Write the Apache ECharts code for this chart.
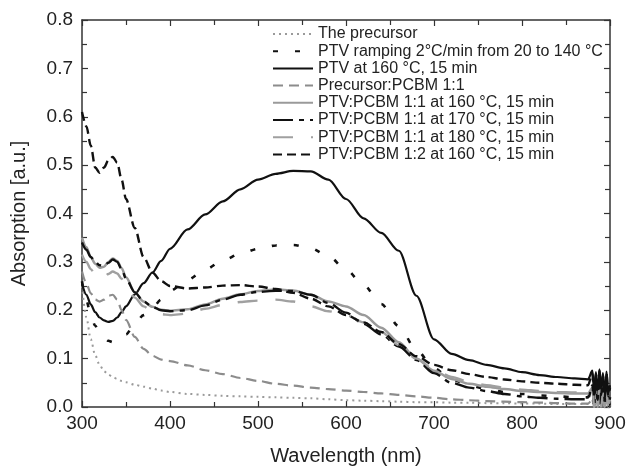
<!DOCTYPE html>
<html>
<head>
<meta charset="utf-8">
<script src="https://cdn.jsdelivr.net/npm/echarts@6/dist/echarts.min.js"></script>
<style>html,body{margin:0;padding:0;background:#fff;}#c{width:629px;height:471px;}</style>
</head>
<body>
<div id="c"></div>
<script>
// Wavelength grid (nm)
const wavelength = [300,305,310,315,320,325,330,335,340,345,350,360,370,380,390,400,420,440,460,480,500,520,540,560,580,600,620,640,660,680,700,720,740,760,780,800,820,840,860,875,
                    880,882,884,886,888,890,892,894,896,898,900];

const seriesNames = [
  'The precursor',
  'PTV ramping 2\u00B0C/min from 20 to 140 \u00B0C',
  'PTV at 160 \u00B0C, 15 min',
  'Precursor:PCBM 1:1',
  'PTV:PCBM 1:1 at 160 \u00B0C, 15 min',
  'PTV:PCBM 1:1 at 170 \u00B0C, 15 min',
  'PTV:PCBM 1:1 at 180 \u00B0C, 15 min',
  'PTV:PCBM 1:2 at 160 \u00B0C, 15 min'
];

const precursor = [0.25,0.185,0.14,0.107,0.087,0.074,0.067,0.062,0.058,0.054,0.051,0.046,0.042,0.038,0.034,0.031,0.027,0.025,0.023,0.022,0.021,0.02,0.019,0.018,0.016,0.014,0.013,0.012,0.011,0.01,0.01,0.009,0.009,0.008,0.008,0.007,0.007,0.006,0.006,0.006,
  0.012,0.0,0.018,0.004,0.02,0.0,0.015,0.002,0.012,0.0,0.005];
const ramping = [0.26,0.22,0.19,0.168,0.152,0.143,0.137,0.134,0.137,0.143,0.15,0.172,0.19,0.205,0.222,0.24,0.263,0.284,0.303,0.317,0.327,0.334,0.335,0.328,0.312,0.284,0.252,0.213,0.167,0.118,0.08,0.057,0.045,0.037,0.031,0.027,0.024,0.022,0.02,0.02,
  0.05,0.01,0.06,0.005,0.055,0.0,0.065,0.01,0.05,0.005,0.02];
const ptv160 = [0.255,0.232,0.212,0.196,0.185,0.179,0.176,0.178,0.185,0.196,0.208,0.233,0.256,0.278,0.302,0.327,0.367,0.398,0.425,0.45,0.47,0.482,0.488,0.487,0.47,0.43,0.39,0.36,0.323,0.23,0.14,0.11,0.097,0.087,0.08,0.072,0.066,0.062,0.059,0.057,
  0.075,0.03,0.072,0.025,0.078,0.035,0.07,0.02,0.073,0.03,0.045];
const precPcbm11 = [0.28,0.255,0.235,0.222,0.218,0.222,0.23,0.232,0.222,0.2,0.18,0.145,0.12,0.106,0.098,0.095,0.086,0.076,0.068,0.06,0.054,0.048,0.044,0.04,0.037,0.034,0.031,0.028,0.025,0.022,0.019,0.016,0.014,0.012,0.011,0.01,0.009,0.008,0.007,0.007,
  0.015,0.0,0.012,0.003,0.018,0.0,0.01,0.002,0.014,0.0,0.004];
const pcbm11at160 = [0.35,0.33,0.31,0.296,0.288,0.29,0.3,0.307,0.302,0.287,0.268,0.237,0.218,0.207,0.201,0.199,0.202,0.212,0.224,0.233,0.24,0.243,0.241,0.232,0.218,0.208,0.19,0.164,0.134,0.1,0.075,0.058,0.048,0.042,0.037,0.033,0.031,0.029,0.028,0.028,
  0.04,0.005,0.045,0.0,0.035,0.008,0.042,0.0,0.03,0.005,0.015];
const pcbm11at170 = [0.34,0.325,0.31,0.3,0.293,0.292,0.298,0.305,0.3,0.285,0.265,0.237,0.218,0.207,0.2,0.198,0.2,0.21,0.222,0.232,0.238,0.24,0.24,0.232,0.215,0.195,0.172,0.15,0.125,0.097,0.07,0.05,0.04,0.033,0.027,0.022,0.019,0.017,0.016,0.016,
  0.045,0.0,0.055,0.01,0.06,0.0,0.05,0.005,0.045,0.0,0.02];
const pcbm11at180 = [0.315,0.3,0.285,0.273,0.267,0.268,0.275,0.28,0.276,0.265,0.25,0.226,0.208,0.198,0.192,0.19,0.193,0.203,0.211,0.217,0.22,0.222,0.218,0.208,0.198,0.19,0.175,0.155,0.128,0.1,0.078,0.062,0.052,0.045,0.04,0.036,0.033,0.031,0.03,0.029,
  0.035,0.0,0.03,0.005,0.04,0.0,0.028,0.002,0.03,0.0,0.01];
const pcbm12at160 = [0.61,0.58,0.54,0.495,0.484,0.495,0.51,0.517,0.505,0.47,0.43,0.37,0.31,0.278,0.26,0.25,0.245,0.247,0.251,0.252,0.249,0.244,0.236,0.224,0.208,0.19,0.175,0.155,0.13,0.105,0.087,0.076,0.068,0.062,0.057,0.053,0.05,0.048,0.046,0.045,
  0.07,0.02,0.068,0.015,0.075,0.025,0.065,0.018,0.07,0.022,0.04];

const xTicks = {min: 300, max: 900, interval: 100};
const yTicks = {min: 0, max: 0.8, interval: 0.1};

const values = [precursor, ramping, ptv160, precPcbm11, pcbm11at160, pcbm11at170, pcbm11at180, pcbm12at160];
const styles = [
  {color:'#9a9a9a', width:2, type:[2,4]},
  {color:'#111111', width:2.6, type:[5,17]},
  {color:'#111111', width:2.2, type:'solid'},
  {color:'#8c8c8c', width:2.2, type:[10,6]},
  {color:'#9a9a9a', width:2.5, type:'solid'},
  {color:'#111111', width:2.4, type:[20,6,5,6]},
  {color:'#a0a0a0', width:2.4, type:[20,18]},
  {color:'#111111', width:2.4, type:[9,5]}
];

const FONT = '"Liberation Sans", Arial, Helvetica, sans-serif';
const axisColor = '#333';

function pairs(vals){ return wavelength.map((w,i)=>[w, vals[i]]); }

const series = seriesNames.map((name, k) => ({
  name: name,
  type: 'line',
  data: pairs(values[k]),
  symbol: 'none',
  showSymbol: false,
  smooth: 0.3,
  smoothMonotone: 'x',
  clip: true,
  lineStyle: {color: styles[k].color, width: styles[k].width, type: styles[k].type},
  itemStyle: {color: styles[k].color},
  emphasis: {disabled: true},
  animation: false
}));

const baseX = {
  type: 'value', min: xTicks.min, max: xTicks.max, interval: xTicks.interval,
  axisLine: {show: true, onZero: false, lineStyle: {color: axisColor, width: 1.5}},
  axisTick: {show: true, inside: true, length: 6, lineStyle: {color: axisColor, width: 1.2}},
  minorTick: {show: true, splitNumber: 2, length: 5, lineStyle: {color: axisColor, width: 1.2}},
  splitLine: {show: false}
};
const baseY = {
  type: 'value', min: yTicks.min, max: yTicks.max, interval: yTicks.interval,
  axisLine: {show: true, onZero: false, lineStyle: {color: axisColor, width: 1.5}},
  axisTick: {show: true, inside: true, length: 6, lineStyle: {color: axisColor, width: 1.2}},
  minorTick: {show: true, splitNumber: 2, length: 5, lineStyle: {color: axisColor, width: 1.2}},
  splitLine: {show: false}
};

const chart = echarts.init(document.getElementById('c'), null, {renderer: 'canvas'});
chart.setOption({
  animation: false,
  backgroundColor: '#fff',
  textStyle: {fontFamily: FONT},
  grid: {left: 82, right: 19, top: 20, bottom: 60, containLabel: false},
  legend: {
    orient: 'vertical',
    left: 272,
    top: 26,
    padding: 0,
    itemWidth: 40,
    itemHeight: 14,
    itemGap: 1.2,
    selectedMode: false,
    data: seriesNames,
    itemStyle: {opacity: 0, color: 'transparent', borderWidth: 0},
    textStyle: {fontFamily: FONT, fontSize: 16, color: '#222', lineHeight: 15}
  },
  xAxis: [
    Object.assign({}, baseX, {
      position: 'bottom',
      name: 'Wavelength (nm)', nameLocation: 'middle', nameGap: 39,
      nameTextStyle: {fontFamily: FONT, fontSize: 20, color: '#222'},
      axisLabel: {show: true, margin: 7, fontFamily: FONT, fontSize: 19, color: '#222'}
    }),
    Object.assign({}, baseX, {position: 'top', axisLabel: {show: false}})
  ],
  yAxis: [
    Object.assign({}, baseY, {
      position: 'left',
      name: 'Absorption [a.u.]', nameLocation: 'middle', nameGap: 53,
      nameTextStyle: {fontFamily: FONT, fontSize: 20, color: '#222'},
      axisLabel: {show: true, margin: 9, fontFamily: FONT, fontSize: 19, color: '#222',
        formatter: v => v.toFixed(1)}
    }),
    Object.assign({}, baseY, {position: 'right', axisLabel: {show: false}})
  ],
  series: series
});
</script>
</body>
</html>
